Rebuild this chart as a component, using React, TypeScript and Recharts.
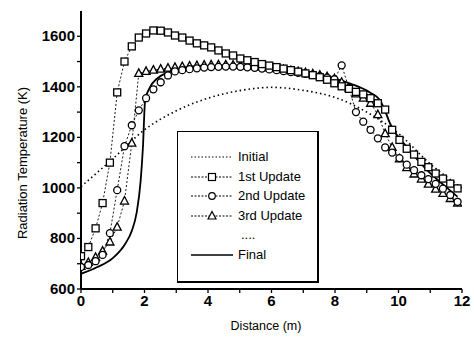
import React from 'react';
import { LineChart, Line, XAxis, YAxis, Legend, Label } from 'recharts';

// sample positions along the furnace (m)
const distance = [
  0, 0.23, 0.46, 0.68, 0.91, 1.14, 1.37, 1.6, 1.82, 2.05,
  2.28, 2.51, 2.74, 2.96, 3.19, 3.42, 3.65, 3.88, 4.1, 4.33,
  4.56, 4.79, 5.02, 5.24, 5.47, 5.7, 5.93, 6.16, 6.38, 6.61,
  6.84, 7.07, 7.3, 7.52, 7.75, 7.98, 8.21, 8.44, 8.66, 8.89,
  9.12, 9.35, 9.58, 9.8, 10.03, 10.26, 10.49, 10.72, 10.94, 11.17,
  11.4, 11.63, 11.86,
];

const firstUpdate = [
  730, 766, 840, 940, 1100, 1378, 1500, 1560, 1595, 1611,
  1623, 1622, 1615, 1603, 1595, 1583, 1572, 1564, 1556, 1544,
  1532, 1524, 1512, 1505, 1498, 1490, 1484, 1478, 1472, 1466,
  1460, 1453, 1446, 1438, 1428, 1414, 1402, 1392, 1380, 1370,
  1355, 1335, 1310, 1230, 1190, 1155, 1132, 1103, 1082, 1057,
  1037, 1017, 998,
];

const secondUpdate = [
  687, 695, 710, 735, 821, 991, 1165, 1248, 1307, 1355,
  1390, 1418, 1445, 1461, 1466, 1470, 1473, 1476, 1478, 1479,
  1480, 1480, 1479, 1477, 1475, 1472, 1469, 1466, 1462, 1458,
  1455, 1451, 1447, 1442, 1436, 1430, 1485, 1395, 1300, 1262,
  1230, 1196, 1160, 1140, 1118, 1092, 1070, 1050, 1035, 1016,
  997, 972, 945,
];

const thirdUpdate = [
  690, 705, 725, 750, 786, 845, 948, 1177, 1453, 1461,
  1466, 1470, 1474, 1477, 1480, 1482, 1484, 1486, 1487, 1487,
  1487, 1486, 1485, 1483, 1481, 1478, 1475, 1472, 1468, 1464,
  1460, 1456, 1451, 1446, 1440, 1432, 1418, 1395, 1372, 1355,
  1335, 1290, 1215, 1160, 1115, 1080, 1055, 1035, 1015, 995,
  978, 958, 940,
];

const initialDistance = [0, 1, 2, 3, 4, 5, 6, 7, 8, 9, 10, 11, 12];
const initialTemp = [1005, 1115, 1230, 1305, 1355, 1385, 1398, 1386, 1358, 1300, 1215, 1095, 1000];

const finalDistance = [
  0, 0.5, 1.0, 1.4, 1.6, 1.75, 1.88, 1.95, 2.02, 2.17, 2.4, 2.74, 3.2, 4, 5, 6, 7, 8,
  8.5, 9.1, 9.42, 9.57, 9.73, 10.27, 10.9, 11.5, 11.86,
];
const finalTemp = [
  660, 686, 722, 780, 830, 900, 1030, 1160, 1347, 1398, 1433, 1457, 1472, 1482, 1482, 1472, 1455, 1432,
  1412, 1378, 1347, 1307, 1256, 1161, 1070, 1003, 965,
];

const xTicks = [0, 1, 2, 3, 4, 5, 6, 7, 8, 9, 10, 11, 12];
const yTicks = [600, 700, 800, 900, 1000, 1100, 1200, 1300, 1400, 1500, 1600];

const legendItems = ['Initial', '1st Update', '2nd Update', '3rd Update', '....', 'Final'];

const toPoints = (xs: number[], ys: number[]) => xs.map((x, i) => ({ x, y: ys[i] }));

const FONT = '"Liberation Sans", Arial, Helvetica, sans-serif';

const Square = (props: any) => {
  const { cx, cy, index } = props;
  if (cx == null || cy == null) return <g key={index} />;
  return <rect key={index} x={cx - 3.5} y={cy - 3.5} width={7} height={7} fill="#fff" stroke="#000" strokeWidth={1.3} />;
};

const Circle = (props: any) => {
  const { cx, cy, index } = props;
  if (cx == null || cy == null) return <g key={index} />;
  return <circle key={index} cx={cx} cy={cy} r={3.5} fill="#fff" stroke="#000" strokeWidth={1.3} />;
};

const Triangle = (props: any) => {
  const { cx, cy, index } = props;
  if (cx == null || cy == null) return <g key={index} />;
  const p = `${cx},${cy - 4.5} ${cx - 4},${cy + 3} ${cx + 4},${cy + 3}`;
  return <polygon key={index} points={p} fill="#fff" stroke="#000" strokeWidth={1.3} />;
};

const XTick = (props: any) => {
  const { x, y, payload } = props;
  const v = payload.value;
  if (v % 2 !== 0) return <g />;
  return (
    <text x={x} y={y + 11} textAnchor="middle" fontFamily={FONT} fontSize={15} fontWeight="bold" fill="#000">
      {v}
    </text>
  );
};

const YTick = (props: any) => {
  const { x, y, payload } = props;
  const v = payload.value;
  if (v % 200 !== 0) return <g />;
  return (
    <text x={x} y={y + 5} textAnchor="end" fontFamily={FONT} fontSize={15} fontWeight="bold" fill="#000">
      {v}
    </text>
  );
};

const YTitle = () => {
  const cx = 22;
  const cy = 163;
  return (
    <text x={cx} y={cy} transform={`rotate(-90 ${cx} ${cy})`} textAnchor="middle" dominantBaseline="central"
      fontFamily={FONT} fontSize={13} fill="#000">
      Radiation Temperature (K)
    </text>
  );
};

const XTitle = () => (
  <text x={266} y={330} textAnchor="middle" fontFamily={FONT} fontSize={12.5} fill="#000">
    Distance (m)
  </text>
);

const LegendSample = ({ kind }: { kind: number }) => {
  const dash = kind === 0 ? '1.5 2' : '2 1.5';
  return (
    <svg width={44} height={12} style={{ position: 'absolute', left: 12, top: 0 }}>
      {kind === 4 ? null : (
        <line x1={1} y1={6} x2={43} y2={6} stroke="#000"
          strokeWidth={kind === 5 ? 1.6 : 1}
          strokeDasharray={kind === 5 ? undefined : dash} />
      )}
      {kind === 1 && <rect x={18.5} y={2.5} width={7} height={7} fill="#fff" stroke="#000" strokeWidth={1.2} />}
      {kind === 2 && <circle cx={22} cy={6} r={3.3} fill="#fff" stroke="#000" strokeWidth={1.2} />}
      {kind === 3 && <polygon points="22,1.5 18,9 26,9" fill="#fff" stroke="#000" strokeWidth={1.2} />}
    </svg>
  );
};

const renderLegend = () => (
  <div style={{
    position: 'relative', width: 142, height: 152, boxSizing: 'border-box', background: '#fff',
    borderTop: '1.5px solid #000', borderLeft: '1.5px solid #000',
    borderRight: '2.5px solid #000', borderBottom: '2.5px solid #000', fontFamily: FONT,
  }}>
    {legendItems.map((name, i) => (
      <div key={name} style={{ position: 'absolute', left: 0, top: 19 + i * 19.6, width: 138, height: 12 }}>
        <LegendSample kind={i} />
        <span style={{ position: 'absolute', left: i === 4 ? 63 : 60, top: -2, fontSize: 13, lineHeight: '15px', color: '#000' }}>
          {name}
        </span>
      </div>
    ))}
  </div>
);

const App: React.FC = () => {
  return (
    <div style={{ position: 'absolute', left: 0, top: 0, width: 474, height: 345, background: '#fff' }}>
      <LineChart width={474} height={345} margin={{ top: 11, right: 12, bottom: 0, left: 0 }}>
        <XAxis xAxisId={0} dataKey="x" type="number" domain={[0, 12]} ticks={xTicks} interval={0}
          height={56} stroke="#000" strokeWidth={2} tickSize={4} tickLine={{ stroke: '#000', strokeWidth: 1.3 }}
          tick={<XTick />} allowDataOverflow>
          <Label content={<XTitle />} />
        </XAxis>
        <XAxis xAxisId="top" orientation="top" dataKey="x" type="number" domain={[0, 12]} height={0}
          tick={false} tickLine={false} stroke="#000" strokeWidth={2.5} />
        <YAxis yAxisId={0} type="number" domain={[600, 1700]} ticks={yTicks} interval={0} width={81}
          stroke="#000" strokeWidth={2} tickSize={4} tickLine={{ stroke: '#000', strokeWidth: 1.3 }}
          tick={<YTick />} allowDataOverflow>
          <Label content={<YTitle />} />
        </YAxis>
        <YAxis yAxisId="right" orientation="right" type="number" domain={[600, 1700]} width={0}
          tick={false} tickLine={false} stroke="#000" strokeWidth={1.2} />
        <Legend layout="vertical" align="center" verticalAlign="middle" content={renderLegend}
          wrapperStyle={{ position: 'absolute', left: 177, top: 131, width: 142, height: 152 }} />
        <Line data={toPoints(initialDistance, initialTemp)} dataKey="y" name="Initial" type="monotone"
          stroke="#000" strokeWidth={1.6} strokeDasharray="1.5 3" dot={false} isAnimationActive={false} />
        <Line data={toPoints(finalDistance, finalTemp)} dataKey="y" name="Final" type="monotone"
          stroke="#000" strokeWidth={1.8} dot={false} isAnimationActive={false} />
        <Line data={toPoints(distance, thirdUpdate)} dataKey="y" name="3rd Update" type="linear"
          stroke="#000" strokeWidth={0.9} strokeDasharray="2 2" dot={Triangle} isAnimationActive={false} />
        <Line data={toPoints(distance, secondUpdate)} dataKey="y" name="2nd Update" type="linear"
          stroke="#000" strokeWidth={0.9} strokeDasharray="2 2" dot={Circle} isAnimationActive={false} />
        <Line data={toPoints(distance, firstUpdate)} dataKey="y" name="1st Update" type="linear"
          stroke="#000" strokeWidth={0.9} strokeDasharray="2 2" dot={Square} isAnimationActive={false} />
      </LineChart>
    </div>
  );
};

export default App;
